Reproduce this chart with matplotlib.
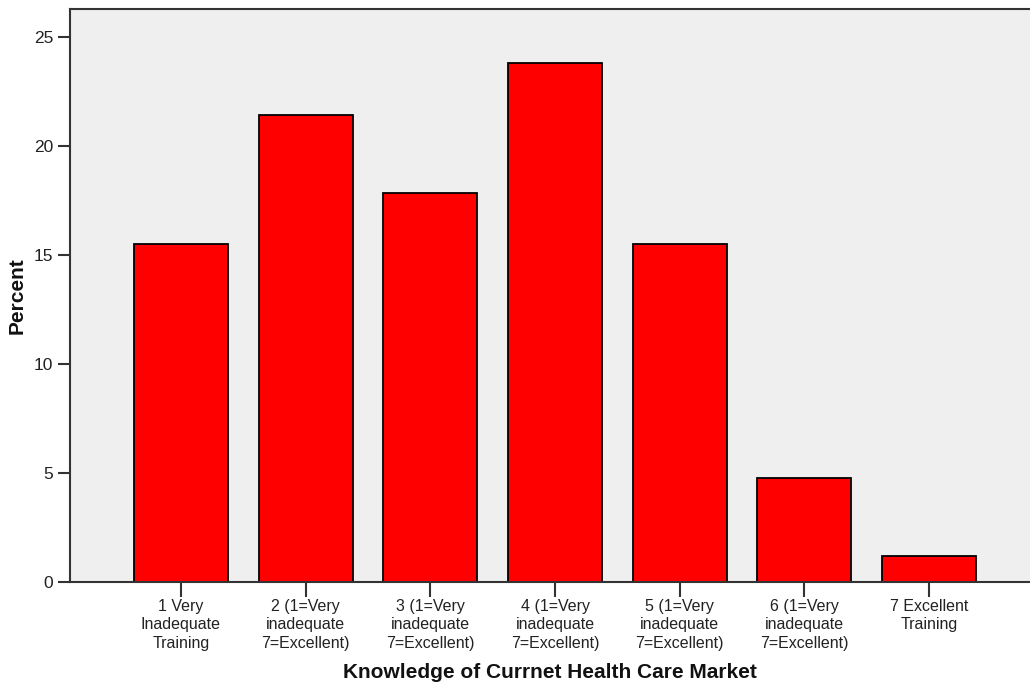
import matplotlib.pyplot as plt

# Knowledge of current health care market - percent
categories = ["1 Very\nInadequate\nTraining",
              "2 (1=Very\ninadequate\n7=Excellent)",
              "3 (1=Very\ninadequate\n7=Excellent)",
              "4 (1=Very\ninadequate\n7=Excellent)",
              "5 (1=Very\ninadequate\n7=Excellent)",
              "6 (1=Very\ninadequate\n7=Excellent)",
              "7 Excellent\nTraining"]
percent = [15.48, 21.43, 17.86, 23.81, 15.48, 4.76, 1.19]
yticks = [0, 5, 10, 15, 20, 25]

plt.rcParams["font.family"] = ["Liberation Sans", "DejaVu Sans"]

fig = plt.figure(figsize=(10.3, 6.92), dpi=100)
ax = fig.add_axes([0.068, 0.159, 0.932, 0.828])
ax.set_facecolor("#efefef")

x = list(range(len(categories)))
ax.bar(x, percent, width=0.755, color="#ff0000", edgecolor="black", linewidth=1.3, zorder=2)

ax.set_xlim(-0.89, 6.81)
ax.set_ylim(0, 26.28)
ax.set_xticks(x)
ax.set_xticklabels(categories, fontsize=11.5, color="#222222", linespacing=1.3)
ax.set_yticks(yticks)
ax.set_yticklabels([str(v) for v in yticks], fontsize=12.5, color="#222222")
ax.tick_params(axis="x", length=11, width=1.5, color="#333333", pad=1)
ax.tick_params(axis="y", length=9, width=1.5, color="#333333", pad=3)

for s in ["left", "top", "bottom"]:
    ax.spines[s].set_linewidth(1.5)
    ax.spines[s].set_color("#333333")
ax.spines["right"].set_visible(False)

ax.set_xlabel("Knowledge of Currnet Health Care Market", fontsize=15, fontweight="bold", color="#111111", labelpad=9)
ax.set_ylabel("Percent", fontsize=15, fontweight="bold", color="#111111", labelpad=5)

fig.savefig("out.png", dpi=100)
